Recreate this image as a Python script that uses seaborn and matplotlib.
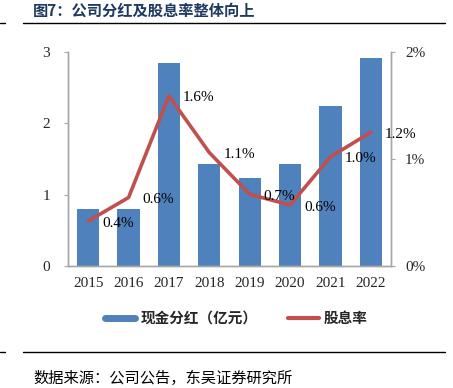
import numpy as np
import pandas as pd
import matplotlib
matplotlib.use("Agg")
import matplotlib.pyplot as plt
import seaborn as sns
from matplotlib.lines import Line2D

# data
years = ["2015", "2016", "2017", "2018", "2019", "2020", "2021", "2022"]
dividend = [0.80, 0.80, 2.85, 1.43, 1.24, 1.43, 2.24, 2.92]        # 亿元
yield_pct = [0.42, 0.64, 1.59, 1.06, 0.67, 0.57, 1.02, 1.25]        # %
yield_labels = ["0.4%", "0.6%", "1.6%", "1.1%", "0.7%", "0.6%", "1.0%", "1.2%"]

df = pd.DataFrame({"year": years, "dividend": dividend,
                   "pos": np.arange(len(years)), "yield": yield_pct})

sns.set_style("white")
plt.rcParams['font.family'] = ['Liberation Serif', 'Noto Sans CJK SC']
cjk = ['Noto Sans CJK SC', 'DejaVu Sans']

W, H = 453, 388
fig = plt.figure(figsize=(W / 100, H / 100), dpi=100)

# plot area in pixel coords: x 68..391, y 52..266
ax = fig.add_axes([68 / W, (H - 266) / H, (391 - 68) / W, (266 - 52) / H])

blue = "#4F81BD"
red = "#C0504D"
grey = "#A6A6A6"

sns.barplot(data=df, x="year", y="dividend", color=blue, width=0.55,
            saturation=1, ax=ax, edgecolor="none")
ax.set_xlim(-0.5, 7.5)
ax.set_ylim(0, 3)
ax.set_yticks([0, 1, 2, 3])
ax.set_xlabel("")
ax.set_ylabel("")

ax2 = ax.twinx()
sns.lineplot(data=df, x="pos", y="yield", color=red, linewidth=2.6, ax=ax2)
ax2.set_ylim(0, 2)
ax2.set_yticks([0, 1, 2])
ax2.set_yticklabels(["0%", "1%", "2%"])
ax2.set_xlim(-0.5, 7.5)
ax2.set_ylabel("")
ax2.set_xlabel("")

for i, lab in enumerate(yield_labels):
    ax2.annotate(lab, (df["pos"][i], df["yield"][i]), xytext=(10, -1.5),
                 textcoords="offset points", ha="left", va="center",
                 fontsize=11, color="black")

for a in (ax, ax2):
    for s in a.spines.values():
        s.set_color(grey)
        s.set_linewidth(1)
    a.spines["top"].set_visible(False)

ax.tick_params(axis="y", direction="out", length=3, color=grey, labelsize=11, pad=10)
ax.tick_params(axis="x", length=0, labelsize=11, pad=8)
ax2.tick_params(axis="y", direction="out", length=3, color=grey, labelsize=11, pad=7)

# legend
handles = [Line2D([0], [0], color=blue, linewidth=5),
           Line2D([0], [0], color=red, linewidth=3)]
fig.legend(handles, ["现金分红（亿元）", "股息率"], loc="center",
           bbox_to_anchor=(236 / W, 1 - 318 / H), ncol=2, frameon=False,
           handlelength=2.1, handletextpad=0.35, columnspacing=2.1,
           prop={"family": cjk, "size": 10.5, "weight": "bold"})

# title, rules and source
fig.text(33 / W, 1 - 11 / H, "图7：公司分红及股息率整体向上", ha="left", va="center",
         fontsize=11, fontweight="bold", color="#1F3A60", family=cjk)
for yy in (23, 352):
    fig.add_artist(Line2D([0, 5 / W], [1 - yy / H] * 2, color="black", linewidth=1))
    fig.add_artist(Line2D([23 / W, 445 / W], [1 - yy / H] * 2, color="black", linewidth=1))
fig.text(33 / W, 1 - 378 / H, "数据来源：公司公告，东吴证券研究所", ha="left", va="center",
         fontsize=11, color="black", family=cjk)

fig.savefig("out.png", dpi=100)
